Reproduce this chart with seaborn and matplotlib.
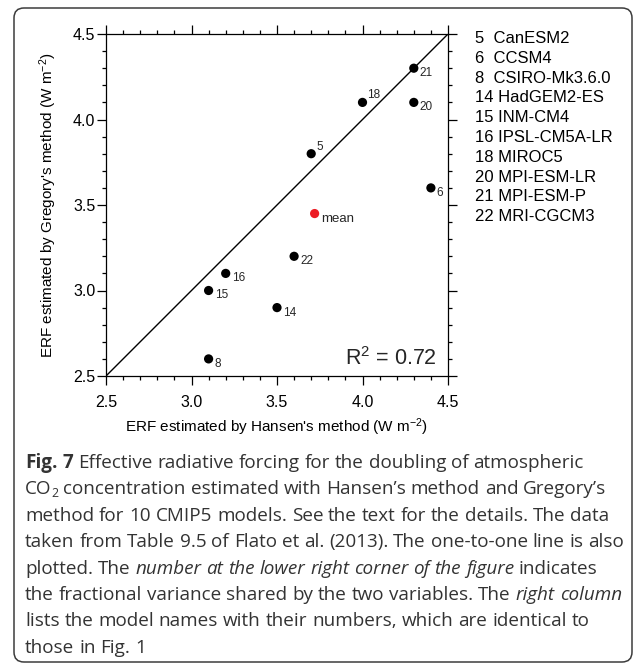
import matplotlib
matplotlib.use("Agg")
import matplotlib.pyplot as plt
import seaborn as sns
from matplotlib import transforms, font_manager
from matplotlib.patches import FancyBboxPatch
from matplotlib.ticker import MultipleLocator, FormatStrFormatter

# --- data ---
MODEL_NUM = [5, 6, 8, 14, 15, 16, 18, 20, 21, 22]
MODEL_NAME = ["CanESM2", "CCSM4", "CSIRO-Mk3.6.0", "HadGEM2-ES", "INM-CM4",
              "IPSL-CM5A-LR", "MIROC5", "MPI-ESM-LR", "MPI-ESM-P", "MRI-CGCM3"]
HANSEN = [3.7, 4.4, 3.1, 3.5, 3.1, 3.2, 4.0, 4.3, 4.3, 3.6]
GREGORY = [3.8, 3.6, 2.6, 2.9, 3.0, 3.1, 4.1, 4.1, 4.3, 3.2]
MEAN_XY = [3.72, 3.45]
R2 = 0.72
AXIS_RANGE = [2.5, 4.5]
LABEL_ABOVE = [5, 18]   # numbers drawn above-right of the dot

CAPTION = [
    [("Fig. 7", "bold"), (" Effective radiative forcing for the doubling of atmospheric", "normal")],
    [("CO", "normal"), ("2", "sub"), (" concentration estimated with Hansen\u2019s method and Gregory\u2019s", "normal")],
    [("method for 10 CMIP5 models. See the text for the details. The data", "normal")],
    [("taken from Table 9.5 of Flato et al. (2013). The one-to-one line is also", "normal")],
    [("plotted. The ", "normal"), ("number at the lower right corner of the figure", "italic"),
     (" indicates", "normal")],
    [("the fractional variance shared by the two variables. The ", "normal"), ("right column", "italic")],
    [("lists the model names with their numbers, which are identical to", "normal")],
    [("those in Fig. 1", "normal")],
]

W, H = 633, 664

sns.set_theme(style="ticks")
plt.rcParams["font.family"] = ["Liberation Sans", "DejaVu Sans"]
plt.rcParams["mathtext.fontset"] = "custom"
plt.rcParams["mathtext.rm"] = "Liberation Sans"
plt.rcParams["mathtext.it"] = "Liberation Sans:italic"
plt.rcParams["mathtext.bf"] = "Liberation Sans:bold"

installed = {f.name for f in font_manager.fontManager.ttflist}
CAP_FONT = next(f for f in ["Open Sans", "Noto Sans", "Lato", "DejaVu Sans"] if f in installed)

fig = plt.figure(figsize=(W / 100, H / 100), dpi=100)
fig.patch.set_facecolor("white")
# pixel coordinates, origin at top-left
px = transforms.Affine2D().scale(1 / W, -1 / H).translate(0, 1) + fig.transFigure

ax = fig.add_axes([106 / W, 1 - 376 / H, 342 / W, 342 / H])
ax.set_facecolor("white")

ax.axline((AXIS_RANGE[0], AXIS_RANGE[0]), slope=1, color="black", lw=1.0, zorder=2)
sns.scatterplot(x=HANSEN, y=GREGORY, ax=ax, color="black", s=44, edgecolor="none",
                zorder=3, clip_on=False, legend=False)
sns.scatterplot(x=[MEAN_XY[0]], y=[MEAN_XY[1]], ax=ax, color="#ec1c24", s=44,
                edgecolor="none", zorder=3, legend=False)

for n, x, y in zip(MODEL_NUM, HANSEN, GREGORY):
    if n in LABEL_ABOVE:
        ax.annotate(str(n), (x, y), xytext=(3.5, 5), textcoords="offset points",
                    fontsize=8.5, ha="left", va="center")
    else:
        ax.annotate(str(n), (x, y), xytext=(4.3, -3.6), textcoords="offset points",
                    fontsize=8.5, ha="left", va="center")
ax.annotate("mean", (MEAN_XY[0], MEAN_XY[1]), xytext=(4.5, -3.8), textcoords="offset points",
            fontsize=9.5, ha="left", va="center")

ax.text(1 - 11 / 342, 11 / 342, r"R$^2$ = %.2f" % R2, transform=ax.transAxes,
        ha="right", va="baseline", fontsize=15.5)

ax.set_xlim(AXIS_RANGE)
ax.set_ylim(AXIS_RANGE)
for axis in (ax.xaxis, ax.yaxis):
    axis.set_major_locator(MultipleLocator(0.5))
    axis.set_minor_locator(MultipleLocator(0.1))
    axis.set_major_formatter(FormatStrFormatter("%.1f"))
ax.tick_params(which="both", direction="out", top=True, right=True,
               labeltop=False, labelright=False, color="black", width=0.9,
               labelsize=11.5, labelcolor="black")
ax.tick_params(which="major", length=6.2)
ax.tick_params(which="minor", length=3)
ax.tick_params(axis="x", which="major", pad=7.5)
ax.tick_params(axis="y", which="major", pad=1.5)
for sp in ax.spines.values():
    sp.set_color("black")
    sp.set_linewidth(0.9)

ax.set_xlabel(r"ERF estimated by Hansen's method (W m$^{-2}$)", fontsize=11, color="black")
ax.set_ylabel(r"ERF estimated by Gregory's method (W m$^{-2}$)", fontsize=11, color="black")
ax.xaxis.set_label_coords(0.5, -(432 - 376) / 342)
ax.xaxis.label.set_va("baseline")
ax.yaxis.set_label_coords(-(106 - 53) / 342, 0.5)
ax.yaxis.label.set_va("baseline")

# model list on the right
for i, (n, name) in enumerate(zip(MODEL_NUM, MODEL_NAME)):
    gap = "  " if n < 10 else " "
    fig.text(475, 43 + 19.8 * i, f"{n}{gap}{name}", transform=px, fontsize=12,
             ha="left", va="baseline", color="black")

# caption with mixed styles
renderer = fig.canvas.get_renderer()
CAP_COLOR = "#333333"


def make(x, y, s, style, size, draw=True):
    kw = dict(family=CAP_FONT, color=CAP_COLOR, ha="left", va="baseline", transform=px)
    if style == "bold":
        kw["fontweight"] = "bold"
    if style == "italic":
        kw["fontstyle"] = "italic"
    if style == "sub":
        size = size * 0.65
        y = y + size * 0.35
    t = fig.text(x, y, s, fontsize=size, **kw)
    w = t.get_window_extent(renderer).width
    if not draw:
        t.remove()
    return w


def space_w(size):
    a = make(0, 0, "a a", "normal", size, draw=False)
    b = make(0, 0, "aa", "normal", size, draw=False)
    return a - b


def layout_line(segs, x0, y, size, draw=True):
    sw = space_w(size)
    x = x0
    for s, style in segs:
        parts = s.split(" ")
        for i, p in enumerate(parts):
            if i > 0:
                x += sw
            if p:
                x += make(x, y, p, style, size, draw)
    return x - x0


base = 14.0
w1 = layout_line(CAPTION[0], 25, 0, base, draw=False)
cap_size = base * (588 - 25) / w1
for k, segs in enumerate(CAPTION):
    layout_line(segs, 25, 468 + 26.4 * k, cap_size)

box = FancyBboxPatch((14, 8), 618, 654, boxstyle="round,pad=0,rounding_size=10",
                     transform=px, fill=False, edgecolor="#3c3c3c", lw=1.1, clip_on=False)
fig.patches.append(box)

fig.savefig("out.png", dpi=100, facecolor="white")
